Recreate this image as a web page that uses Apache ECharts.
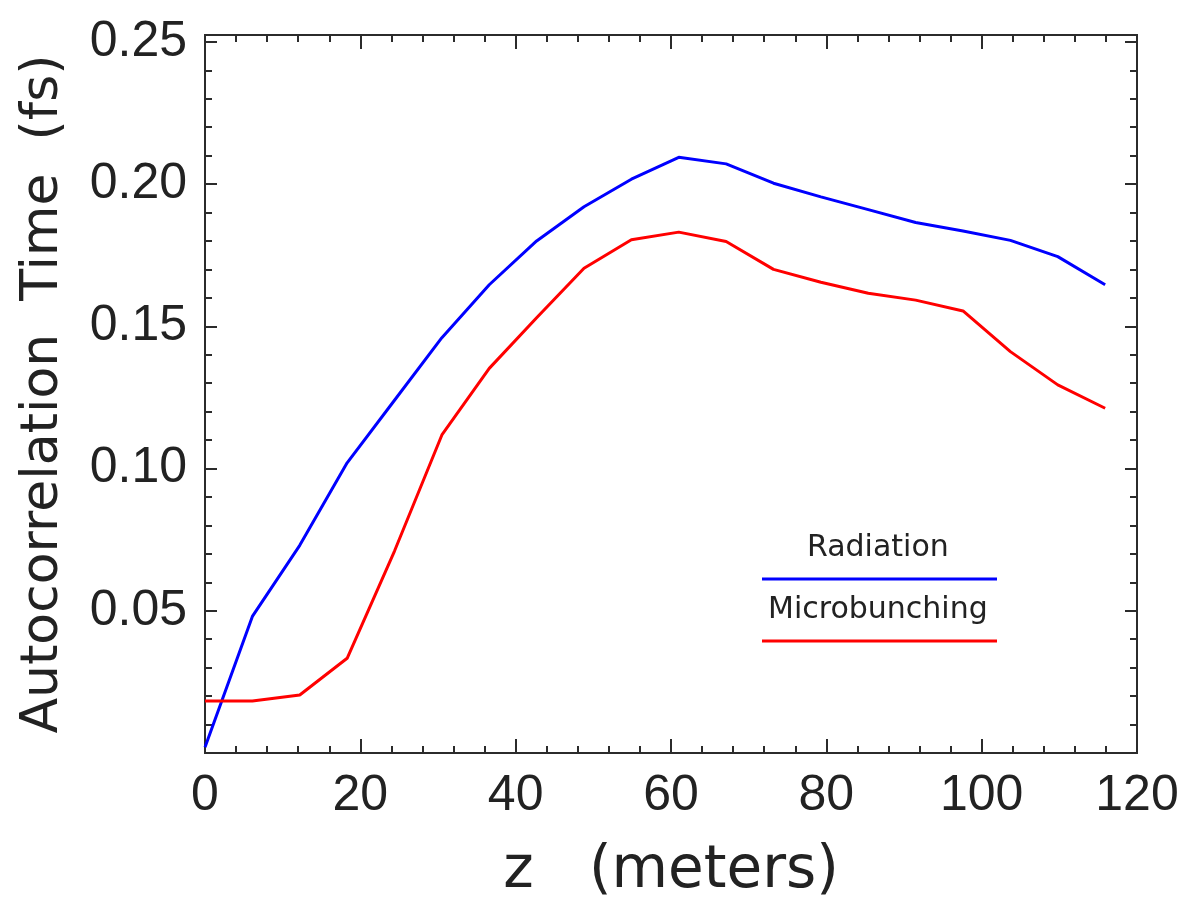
<!DOCTYPE html>
<html>
<head>
<meta charset="utf-8">
<script src="https://cdn.jsdelivr.net/npm/echarts@6/dist/echarts.min.js"></script>
<style>
html,body{margin:0;padding:0;background:#fff;}
#chart{width:1191px;height:900px;}
</style>
</head>
<body>
<div id="chart"></div>
<script>
// ---- data ----
const zMeters = [0, 6.1, 12.2, 18.3, 24.4, 30.5, 36.6, 42.7, 48.8, 54.9, 61.0, 67.1, 73.2, 79.3, 85.4, 91.5, 97.6, 103.7, 109.8, 115.9];
const radiation = [0.002, 0.048, 0.073, 0.102, 0.124, 0.146, 0.1646, 0.180, 0.192, 0.2017, 0.2094, 0.2071, 0.2003, 0.1955, 0.191, 0.1865, 0.1835, 0.1802, 0.1745, 0.1646];
const microbunching = [0.0183, 0.0183, 0.0204, 0.0333, 0.071, 0.1118, 0.1352, 0.153, 0.1704, 0.1804, 0.1831, 0.1798, 0.170, 0.1655, 0.1616, 0.1592, 0.1554, 0.1411, 0.1294, 0.1212];
const seriesNames = ['Radiation', 'Microbunching'];
const xTickLabels = ['0', '20', '40', '60', '80', '100', '120'];
const yTickLabels = ['0.05', '0.10', '0.15', '0.20', '0.25'];
const xTitle = 'z   (meters)';
const yTitle = 'Autocorrelation  Time  (fs)';

const chart = echarts.init(document.getElementById('chart'), null, {renderer: 'canvas'});

const AX = '#2b2b2b';
const TXT = '#222222';
const tickFont = "'Liberation Sans', Arial, sans-serif";
const titleFont = "'DejaVu Sans', sans-serif";

const yMax = 0.2524;

function yLabel(v) {
  const k = Math.round(v / 0.05);
  if (k <= 0 || Math.abs(v - k * 0.05) > 1e-6) return '';
  return yTickLabels[k - 1] || '';
}
function xLabel(v) {
  const k = Math.round(v / 20);
  if (Math.abs(v - k * 20) > 1e-6) return '';
  return xTickLabels[k] || '';
}

function xAxisDef(pos, show) {
  return {
    type: 'value', position: pos, min: 0, max: 120, interval: 20,
    axisLine: {show: true, onZero: false, lineStyle: {color: AX, width: 2}},
    axisTick: {show: true, inside: true, length: 14, lineStyle: {color: AX, width: 2}},
    minorTick: {show: true, splitNumber: 5, length: 7, lineStyle: {color: AX, width: 2}},
    splitLine: {show: false}, minorSplitLine: {show: false},
    axisLabel: show ? {show: true, margin: 18, fontSize: 50, color: TXT, fontFamily: tickFont, formatter: xLabel} : {show: false},
    name: show ? xTitle : '',
    nameLocation: 'middle', nameGap: 90,
    nameTextStyle: {fontSize: 58, color: TXT, fontFamily: titleFont}
  };
}
function yAxisDef(pos, interval, len, labels) {
  return {
    type: 'value', position: pos, min: 0, max: yMax, interval: interval,
    axisLine: {show: true, onZero: false, lineStyle: {color: AX, width: 2}},
    axisTick: {show: true, inside: true, length: len, lineStyle: {color: AX, width: 2}},
    splitLine: {show: false},
    axisLabel: labels ? {show: true, margin: 18, fontSize: 50, color: TXT, fontFamily: tickFont, formatter: yLabel} : {show: false},
    name: labels ? yTitle : '',
    nameLocation: 'middle', nameRotate: 90, nameGap: 136,
    nameTextStyle: {fontSize: 52, color: TXT, fontFamily: titleFont}
  };
}

const option = {
  backgroundColor: '#ffffff',
  animation: false,
  grid: {left: 205, right: 54, top: 35, bottom: 147, containLabel: false, outerBoundsMode: 'none'},
  xAxis: [xAxisDef('bottom', true), xAxisDef('top', false)],
  yAxis: [
    yAxisDef('left', 0.05, 12, true),
    yAxisDef('left', 0.01, 7, false),
    yAxisDef('right', 0.05, 12, false),
    yAxisDef('right', 0.01, 7, false)
  ],
  series: [
    {
      name: seriesNames[0], type: 'line', xAxisIndex: 0, yAxisIndex: 0,
      data: zMeters.map((z, i) => [z, radiation[i]]),
      showSymbol: false, symbol: 'none',
      lineStyle: {color: '#0000ff', width: 3}, itemStyle: {color: '#0000ff'}
    },
    {
      name: seriesNames[1], type: 'line', xAxisIndex: 0, yAxisIndex: 0,
      data: zMeters.map((z, i) => [z, microbunching[i]]),
      showSymbol: false, symbol: 'none',
      lineStyle: {color: '#ff0000', width: 3}, itemStyle: {color: '#ff0000'}
    }
  ],
  graphic: [
    {type: 'text', left: 807, top: 533, style: {text: seriesNames[0], font: "30px 'DejaVu Sans', sans-serif", fill: TXT}},
    {type: 'line', shape: {x1: 762, y1: 579, x2: 997, y2: 579}, style: {stroke: '#0000ff', lineWidth: 3}},
    {type: 'text', left: 768, top: 595, style: {text: seriesNames[1], font: "30px 'DejaVu Sans', sans-serif", fill: TXT}},
    {type: 'line', shape: {x1: 762, y1: 641, x2: 997, y2: 641}, style: {stroke: '#ff0000', lineWidth: 3}}
  ]
};
chart.setOption(option);
</script>
</body>
</html>
